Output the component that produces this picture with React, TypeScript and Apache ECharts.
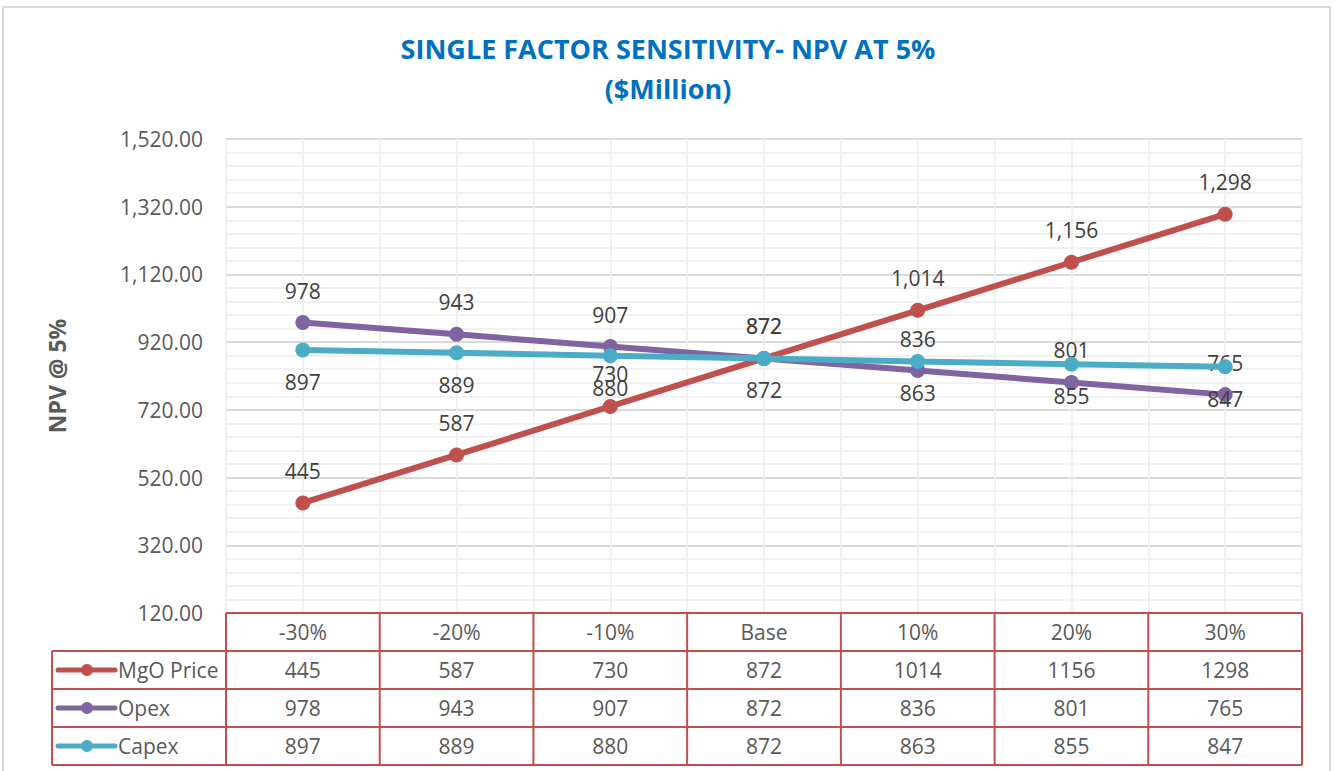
import React, { useEffect, useRef } from "react";
import * as echarts from "echarts";

const categories = ["-30%", "-20%", "-10%", "Base", "10%", "20%", "30%"];
const mgoPrice = [445, 587, 730, 872, 1014, 1156, 1298];
const opex = [978, 943, 907, 872, 836, 801, 765];
const capex = [897, 889, 880, 872, 863, 855, 847];
const seriesNames = ["MgO Price", "Opex", "Capex"];
const yMin = 120;
const yMax = 1520;
const yInterval = 200;

const W = 1336;
const H = 771;
const GRID_L = 226;
const GRID_R = 1302;
const GRID_T = 139;
const GRID_B = 613;
const ROW_H = 38;
const TABLE_L = 52;

const COLORS = ["#C0504D", "#8064A2", "#4BACC6"];
const TABLE_BORDER = "#C0504D";
const FONT = "'Open Sans', 'Noto Sans', sans-serif";

export default function App() {
  const ref = useRef<HTMLDivElement>(null);
  useEffect(() => {
    if (!ref.current) return;
    const chart = echarts.init(ref.current, null, { renderer: "svg" });
    const seriesData = [mgoPrice, opex, capex];
    const labelPos = ["top", "top", "bottom"];
    const fmt = (v: number) => v.toLocaleString("en-US");

    const series: any[] = seriesData.map((d, i) => ({
      name: seriesNames[i],
      type: "line",
      data: d,
      xAxisIndex: 0,
      yAxisIndex: 0,
      symbol: "circle",
      symbolSize: 15,
      lineStyle: { width: 6, color: COLORS[i] },
      itemStyle: { color: COLORS[i] },
      z: 3 + i,
      label: {
        show: true,
        position: labelPos[i],
        distance: 14,
        color: "#404040",
        fontSize: 21,
        fontFamily: FONT,
        formatter: (p: any) => fmt(p.value),
      },
    }));

    const option: any = {
      animation: false,
      backgroundColor: "#ffffff",
      title: {
        text: "SINGLE FACTOR SENSITIVITY- NPV AT 5%\n($Million)",
        left: "center",
        top: 23,
        textStyle: {
          color: "#0070C0",
          fontSize: 27,
          fontWeight: "bold",
          fontFamily: FONT,
          lineHeight: 40,
        },
      },
      grid: {
        left: GRID_L,
        right: W - GRID_R,
        top: GRID_T,
        bottom: H - GRID_B,
        containLabel: false,
      },
      xAxis: [
        {
          type: "category",
          data: categories,
          boundaryGap: true,
          axisLine: { show: false },
          axisTick: { show: false },
          axisLabel: { show: false },
          splitLine: { show: false },
        },
        {
          type: "value",
          min: 0,
          max: 14,
          interval: 1,
          show: true,
          position: "bottom",
          axisLine: { show: false },
          axisTick: { show: false },
          axisLabel: { show: false },
          splitLine: { show: true, lineStyle: { color: "#ececec", width: 1.5 } },
        },
      ],
      yAxis: {
        type: "value",
        min: yMin,
        max: yMax,
        interval: yInterval,
        name: "NPV @ 5%",
        nameLocation: "middle",
        nameGap: 158,
        nameTextStyle: {
          color: "#595959",
          fontSize: 23,
          fontWeight: "bold",
          fontFamily: FONT,
        },
        axisLine: { show: false },
        axisTick: { show: false },
        axisLabel: {
          color: "#595959",
          fontSize: 21,
          fontFamily: FONT,
          margin: 23,
          formatter: (v: number) =>
            v.toLocaleString("en-US", { minimumFractionDigits: 2, maximumFractionDigits: 2 }),
        },
        splitLine: { show: true, lineStyle: { color: "#d9d9d9", width: 2 } },
        minorTick: { show: false, splitNumber: 5 },
        minorSplitLine: { show: true, lineStyle: { color: "#ececec", width: 1.5 } },
      },
      series,
    };
    chart.setOption(option);

    // build data table
    const colW = (GRID_R - GRID_L) / categories.length;
    const g: any[] = [];
    g.push({
      type: "rect",
      shape: { x: 3, y: 7, width: 1327, height: 820 },
      style: { fill: "none", stroke: "#d9d9d9", lineWidth: 2 },
      silent: true,
    });
    const lineStyle = { stroke: TABLE_BORDER, lineWidth: 2 };
    const tableBottom = GRID_B + ROW_H * 4;
    g.push({ type: "line", shape: { x1: GRID_L, y1: GRID_B, x2: GRID_R, y2: GRID_B }, style: lineStyle, z: 10 });
    for (let r = 1; r <= 4; r++) {
      const y = GRID_B + ROW_H * r;
      g.push({ type: "line", shape: { x1: TABLE_L, y1: y, x2: GRID_R, y2: y }, style: lineStyle, z: 10 });
    }
    g.push({ type: "line", shape: { x1: TABLE_L, y1: GRID_B + ROW_H, x2: TABLE_L, y2: tableBottom }, style: lineStyle, z: 10 });
    for (let c = 0; c <= categories.length; c++) {
      const x = GRID_L + colW * c;
      g.push({ type: "line", shape: { x1: x, y1: GRID_B, x2: x, y2: tableBottom }, style: lineStyle, z: 10 });
    }
    const textStyle = (t: string, x: number, y: number, align = "center") => ({
      type: "text",
      x,
      y,
      z: 11,
      style: {
        text: t,
        fill: "#595959",
        font: `21px ${FONT}`,
        textAlign: align,
        textVerticalAlign: "middle",
      },
    });
    categories.forEach((c, i) => {
      const cx = chart.convertToPixel({ xAxisIndex: 0 }, c) as number;
      g.push(textStyle(c, cx, GRID_B + ROW_H / 2));
      seriesData.forEach((d, s) => {
        g.push(textStyle(String(d[i]), cx, GRID_B + ROW_H * (s + 1) + ROW_H / 2));
      });
    });
    seriesNames.forEach((n, s) => {
      const cy = GRID_B + ROW_H * (s + 1) + ROW_H / 2;
      g.push({
        type: "line",
        shape: { x1: 58, y1: cy, x2: 115, y2: cy },
        style: { stroke: COLORS[s], lineWidth: 5, lineCap: "round" },
        z: 11,
      });
      g.push({
        type: "circle",
        shape: { cx: 87, cy, r: 6 },
        style: { fill: COLORS[s] },
        z: 12,
      });
      g.push(textStyle(n, 118, cy, "left"));
    });
    chart.setOption({ graphic: g });

    return () => chart.dispose();
  }, []);
  return (
    <div
      ref={ref}
      style={{ position: "fixed", left: 0, top: 0, width: W, height: H }}
    />
  );
}
